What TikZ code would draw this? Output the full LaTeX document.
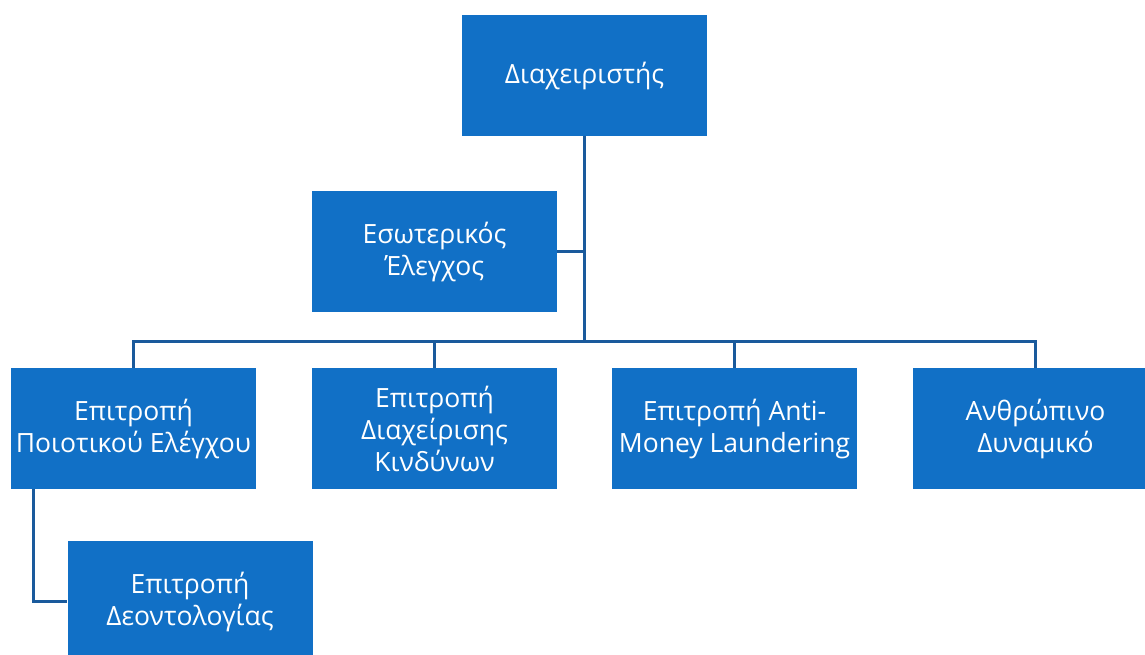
\documentclass[tikz,border=0pt]{standalone}
\usepackage{fontspec}
\setmainfont{Open Sans}
\definecolor{boxblue}{RGB}{17,112,198}
\definecolor{lineblue}{RGB}{26,90,156}

\begin{document}
\begin{tikzpicture}
  [x=1pt, y=-1pt,
   box/.style={fill=boxblue, text=white, minimum width=245pt, minimum height=121pt,
               inner sep=0pt, align=center, font=\fontsize{26.5}{32}\selectfont},
   link/.style={draw=lineblue, line width=3pt}]
  \useasboundingbox (0,0) rectangle (1145,654);
  \node[box] (manager) at (584.5,75.5) {Διαχειριστής};
  \node[box] (audit)   at (434.5,251.5) {Εσωτερικός\\Έλεγχος};
  \node[box] (quality) at (133.5,428.5) {Επιτροπή\\Ποιοτικού Ελέγχου};
  \node[box] (risk)    at (434.5,428.5) {Επιτροπή\\Διαχείρισης\\Κινδύνων};
  \node[box] (aml)     at (734.5,428.5) {Επιτροπή Anti-\\Money Laundering};
  \node[box] (hr)      at (1035.5,428.5) {Ανθρώπινο\\Δυναμικό};
  \node[box] (ethics)  at (190,601.5) {Επιτροπή\\Δεοντολογίας};
  \coordinate (bus) at (0,341);

  % connectors
  \draw[link] (manager.south) -- (manager.south |- bus);
  \draw[link] (audit.east) -- (audit.east -| manager.south);
  \draw[link] (quality.north) |- (bus -| hr.north) -- (hr.north);
  \foreach \n in {risk, aml}
    \draw[link] (\n.north) -- (\n.north |- bus);
  \draw[link] ([xshift=23pt]quality.south west) |- (ethics.west);
\end{tikzpicture}
\end{document}
